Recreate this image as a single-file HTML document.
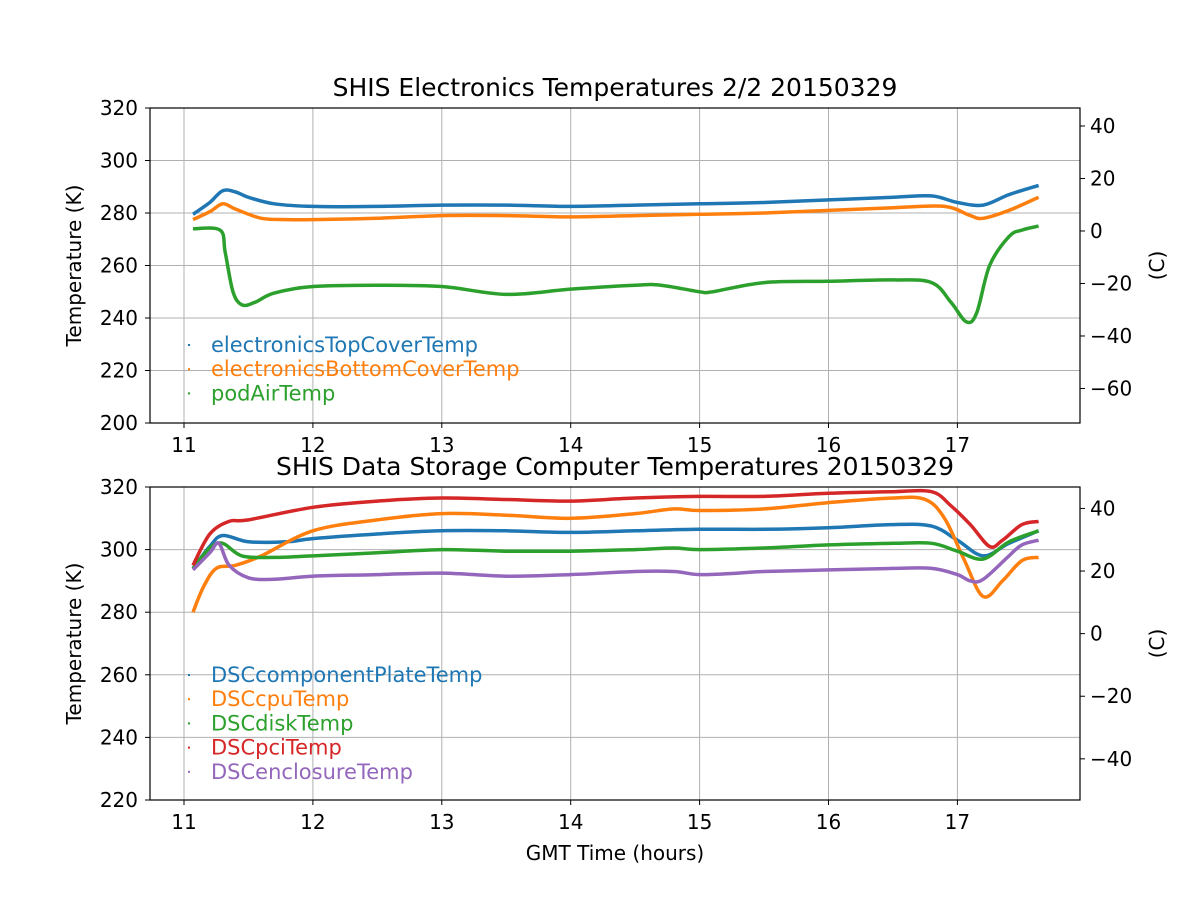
<!DOCTYPE html>
<html><head><meta charset="utf-8"><style>
html,body{margin:0;padding:0;background:#fff}
svg{display:block;font-family:"DejaVu Sans","Liberation Sans",sans-serif}
</style></head><body>
<svg id="s" width="1200" height="900" xmlns="http://www.w3.org/2000/svg"></svg>
<script>
const S=document.getElementById('s');let h='';
const X=t=>184+(t-11)*128.9;
function smooth(pts){let d='M'+pts[0][0].toFixed(1)+','+pts[0][1].toFixed(1);
  for(let i=0;i<pts.length-1;i++){const p0=pts[Math.max(0,i-1)],p1=pts[i],p2=pts[i+1],p3=pts[Math.min(pts.length-1,i+2)];
    const c1=[p1[0]+(p2[0]-p0[0])/6,p1[1]+(p2[1]-p0[1])/6],c2=[p2[0]-(p3[0]-p1[0])/6,p2[1]-(p3[1]-p1[1])/6];
    d+=` C${c1[0].toFixed(1)},${c1[1].toFixed(1)} ${c2[0].toFixed(1)},${c2[1].toFixed(1)} ${p2[0].toFixed(1)},${p2[1].toFixed(1)}`;}
  return d;}
function axes(top,bot,kmin,kmax,kstep,cTicks,title,series,legY,xlabel){
  const Y=k=>bot-(k-kmin)*(bot-top)/(kmax-kmin);
  for(let t=11;t<=17;t++){h+=`<line x1="${X(t)}" y1="${top}" x2="${X(t)}" y2="${bot}" stroke="#b0b0b0" stroke-width="1"/>`;}
  for(let k=kmin;k<=kmax;k+=kstep){h+=`<line x1="150" y1="${Y(k)}" x2="1080" y2="${Y(k)}" stroke="#b0b0b0" stroke-width="1"/>`;
    h+=`<line x1="145" y1="${Y(k)}" x2="150" y2="${Y(k)}" stroke="#000"/>`;
    h+=`<text x="138" y="${Y(k)+7}" font-size="20" text-anchor="end">${k}</text>`;}
  for(let t=11;t<=17;t++){h+=`<line x1="${X(t)}" y1="${bot}" x2="${X(t)}" y2="${bot+5}" stroke="#000"/>`;
    h+=`<text x="${X(t)}" y="${bot+29}" font-size="20" text-anchor="middle">${t}</text>`;}
  for(const c of cTicks){const y=Y(c+273.15);h+=`<line x1="1080" y1="${y}" x2="1085" y2="${y}" stroke="#000"/>`;
    h+=`<text x="1090" y="${y+7}" font-size="20">${c<0?'\u2212'+(-c):c}</text>`;}
  for(const s of series){
    h+=`<path d="${smooth(s.d.map(a=>[X(a[0]),Y(a[1])]))}" fill="none" stroke="${s.c}" stroke-width="3.5" stroke-linejoin="round"/>`;}
  h+=`<rect x="150" y="${top}" width="930" height="${bot-top}" fill="none" stroke="#000" stroke-width="1.2"/>`;
  h+=`<text x="615" y="${top-12}" font-size="25" text-anchor="middle">${title}</text>`;
  const my=(top+bot)/2;
  h+=`<text transform="translate(81,${my}) rotate(-90)" font-size="20" text-anchor="middle">Temperature (K)</text>`;
  h+=`<text transform="translate(1164,${my}) rotate(-90)" font-size="20" text-anchor="middle">(C)</text>`;
  series.forEach((s,i)=>{const y=legY+i*24.2;h+=`<rect x="188" y="${y-1}" width="2" height="2" fill="${s.c}"/>`;
    h+=`<text x="211" y="${y+7}" font-size="21" fill="${s.c}">${s.n}</text>`;});
  if(xlabel)h+=`<text x="615" y="${bot+60}" font-size="20" text-anchor="middle">${xlabel}</text>`;
}
const B='#1f77b4',O='#ff7f0e',G='#2ca02c',R='#d62728',P='#9467bd';
axes(108,423,200,320,20,[40,20,0,-20,-40,-60],'SHIS Electronics Temperatures 2/2 20150329',[
{n:'electronicsTopCoverTemp',c:B,d:[[11.07,279.5],[11.2,284],[11.3,288.5],[11.4,288],[11.5,286],[11.7,283.5],[12,282.5],[12.5,282.5],[13,283],[13.5,283],[14,282.5],[14.5,283],[15,283.5],[15.5,284],[16,285],[16.5,286],[16.8,286.5],[17,284],[17.2,283],[17.4,287],[17.63,290.5]]},
{n:'electronicsBottomCoverTemp',c:O,d:[[11.07,277.5],[11.2,280.5],[11.3,283.5],[11.4,281.5],[11.6,278],[11.8,277.5],[12,277.5],[12.5,278],[13,279],[13.5,279],[14,278.5],[14.5,279],[15,279.5],[15.5,280],[16,281],[16.5,282],[16.9,282.5],[17.1,279],[17.2,278],[17.4,281],[17.63,286]]},
{n:'podAirTemp',c:G,d:[[11.07,274],[11.28,273.5],[11.32,265],[11.38,250],[11.45,245],[11.55,246],[11.7,249.5],[12,252],[12.5,252.5],[13,252],[13.5,249],[14,251],[14.5,252.5],[14.7,252.5],[15,250],[15.1,250],[15.5,253.5],[16,254],[16.5,254.5],[16.8,253.5],[16.95,246],[17.07,238.5],[17.15,242],[17.25,260],[17.4,271],[17.5,273.5],[17.63,275]]}
],345,null);
axes(487,800,220,320,20,[40,20,0,-20,-40],'SHIS Data Storage Computer Temperatures 20150329',[
{n:'DSCcomponentPlateTemp',c:B,d:[[11.07,294],[11.2,301],[11.3,304.5],[11.5,302.5],[11.8,302.5],[12,303.5],[12.5,305],[13,306],[13.5,306],[14,305.5],[14.5,306],[15,306.5],[15.5,306.5],[16,307],[16.5,308],[16.8,307.5],[17,303],[17.2,298],[17.4,302],[17.63,306]]},
{n:'DSCcpuTemp',c:O,d:[[11.07,280],[11.15,288],[11.25,294],[11.4,295],[11.6,298],[12,306],[12.5,309.5],[13,311.5],[13.5,311],[14,310],[14.5,311.5],[14.8,313],[15,312.5],[15.5,313],[16,315],[16.5,316.5],[16.75,316],[16.9,310],[17.05,297],[17.2,285],[17.35,290],[17.5,296.5],[17.63,297.5]]},
{n:'DSCdiskTemp',c:G,d:[[11.07,294],[11.2,300.5],[11.3,302],[11.45,298],[11.7,297.5],[12,298],[12.5,299],[13,300],[13.5,299.5],[14,299.5],[14.5,300],[14.8,300.5],[15,300],[15.5,300.5],[16,301.5],[16.5,302],[16.8,302],[17,299.5],[17.2,297],[17.4,302.5],[17.63,306]]},
{n:'DSCpciTemp',c:R,d:[[11.07,295],[11.2,305],[11.35,309],[11.5,309.5],[12,313.5],[12.5,315.5],[13,316.5],[13.5,316],[14,315.5],[14.5,316.5],[15,317],[15.5,317],[16,318],[16.5,318.5],[16.8,318.5],[16.95,314],[17.1,308],[17.25,301],[17.35,303],[17.5,308],[17.63,309]]},
{n:'DSCenclosureTemp',c:P,d:[[11.07,293.5],[11.2,299],[11.27,302],[11.35,295],[11.5,291],[11.7,290.5],[12,291.5],[12.5,292],[13,292.5],[13.5,291.5],[14,292],[14.5,293],[14.8,293],[15,292],[15.3,292.5],[15.5,293],[16,293.5],[16.5,294],[16.8,294],[17,292],[17.1,290],[17.2,290.5],[17.4,298],[17.5,301.5],[17.63,303]]}
],675,'GMT Time (hours)');
S.innerHTML=h;
</script>
</body></html>
